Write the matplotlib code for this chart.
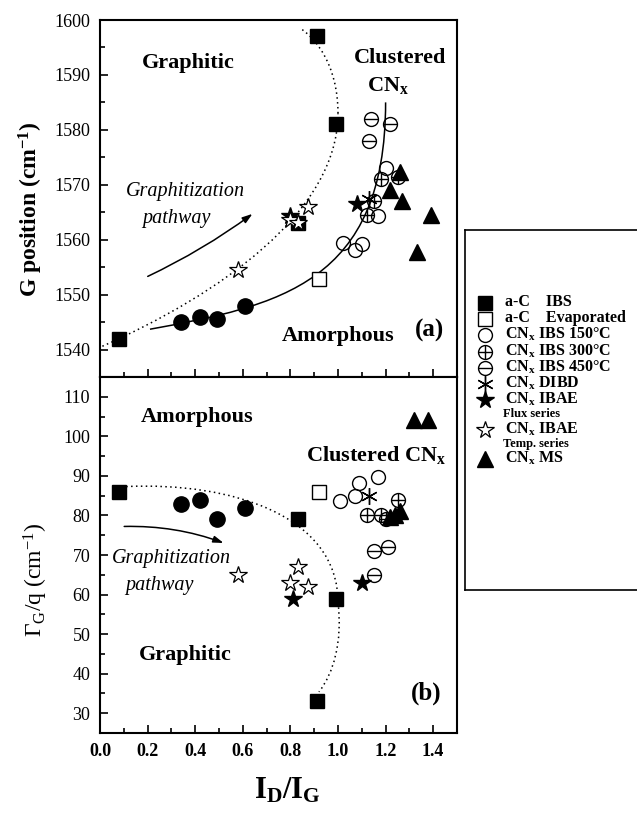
import matplotlib
matplotlib.use("Agg")
import matplotlib.pyplot as plt
from matplotlib.path import Path
from matplotlib.patches import PathPatch
from matplotlib.ticker import MultipleLocator

plt.rcParams["font.family"] = ["Liberation Serif", "DejaVu Serif"]
plt.rcParams["mathtext.fontset"] = "custom"
plt.rcParams["mathtext.rm"] = "Liberation Serif"
plt.rcParams["mathtext.it"] = "Liberation Serif:italic"
plt.rcParams["mathtext.bf"] = "Liberation Serif:bold"
plt.rcParams["mathtext.default"] = "regular"

# ---- data ----
# a-C IBS (filled squares), same samples in both panels
ac_ibs_x = [0.08, 0.83, 0.91, 0.99]
ac_ibs_g = [1542, 1563, 1597, 1581]
ac_ibs_w = [86, 79, 33, 59]

# a-C evaporated (open square)
ac_evap_x = [0.92]
ac_evap_g = [1552.8]
ac_evap_w = [86]

# unlabeled filled circles (a-C series on the solid line)
fc_x = [0.34, 0.42, 0.49, 0.61]
fc_g = [1545, 1546, 1545.6, 1548]
fc_w = [83, 84, 79, 82]

# CNx IBS 150C (open circles)
c150_x_a = [1.02, 1.07, 1.10, 1.17, 1.20]
c150_g = [1559.4, 1558.2, 1559.2, 1564.4, 1573]
c150_x_b = [1.01, 1.07, 1.09, 1.17]
c150_w = [83.7, 84.8, 88.1, 89.8]

# CNx IBS 300C (crossed circles)
c300_x_a = [1.12, 1.15, 1.18, 1.25]
c300_g = [1564.5, 1567, 1571, 1571.5]
c300_x_b = [1.12, 1.18, 1.20, 1.25]
c300_w = [80, 80, 79, 84]

# CNx IBS 450C (minus circles)
c450_x_a = [1.13, 1.14, 1.22]
c450_g = [1578, 1582, 1581]
c450_x_b = [1.15, 1.21, 1.15]
c450_w = [71, 72, 65]

# CNx DIBD (asterisk)
dibd_x = [1.13]
dibd_g = [1567.5]
dibd_w = [85]

# CNx IBAE flux series (filled stars)
ibae_f_x_a = [0.80, 1.08]
ibae_f_g = [1564.4, 1566.5]
ibae_f_x_b = [0.81, 1.10]
ibae_f_w = [59, 63]

# CNx IBAE temp. series (open stars)
ibae_t_x = [0.58, 0.80, 0.83, 0.875]
ibae_t_g = [1554.4, 1563.5, 1563.0, 1566]
ibae_t_w = [65, 63, 67, 62]

# CNx MS (filled triangles)
ms_x_a = [1.22, 1.26, 1.27, 1.33, 1.39]
ms_g = [1569, 1572.3, 1567, 1557.7, 1564.5]
ms_x_b = [1.22, 1.24, 1.26, 1.32, 1.38]
ms_w = [79.5, 80, 81, 104.2, 104.2]

# guide-to-the-eye curves (Bezier control points)
guide_a_solid = [(0.21, 1543.7), (0.75, 1548), (1.20, 1552), (1.20, 1585)]
guide_a_dot1 = [(0.01, 1540.6), (0.50, 1550), (1.00, 1565), (1.00, 1583)]
guide_a_dot2 = [(1.00, 1583), (1.00, 1592), (0.90, 1597), (0.84, 1598.5)]
guide_b_dot1 = [(0.11, 87.3), (0.55, 88.5), (1.00, 80), (1.00, 58)]
guide_b_dot2 = [(1.00, 58), (1.02, 48), (0.98, 40), (0.92, 35.4)]

fig = plt.figure(figsize=(6.37, 8.13), dpi=100)
ax_a = fig.add_axes([100 / 637, 1 - 377 / 813, 357 / 637, 357 / 813])
ax_b = fig.add_axes([100 / 637, 1 - 733 / 813, 357 / 637, 356 / 813])

ms_sq, ms_c, ms_st, ms_tr = 9.5, 10, 13, 11


def bezier(ax, pts, ls):
    path = Path(pts, [Path.MOVETO, Path.CURVE4, Path.CURVE4, Path.CURVE4])
    ax.add_patch(PathPatch(path, fill=False, lw=1.1, ls=ls, color="black"))


def draw_markers(ax, xs, ys, kind):
    kw = dict(ls="none", color="black", zorder=3)
    if kind == "fsq":
        ax.plot(xs, ys, "s", ms=ms_sq, **kw)
    elif kind == "osq":
        ax.plot(xs, ys, "s", ms=ms_sq, mfc="white", mew=1.0, **kw)
    elif kind == "fci":
        ax.plot(xs, ys, "o", ms=ms_c + 1, **kw)
    elif kind == "oci":
        ax.plot(xs, ys, "o", ms=ms_c, mfc="none", mew=1.0, **kw)
    elif kind == "plus":
        ax.plot(xs, ys, "o", ms=ms_c, mfc="none", mew=1.0, **kw)
        ax.plot(xs, ys, "+", ms=ms_c, mew=1.0, **kw)
    elif kind == "minus":
        ax.plot(xs, ys, "o", ms=ms_c, mfc="none", mew=1.0, **kw)
        ax.plot(xs, ys, "_", ms=ms_c, mew=1.0, **kw)
    elif kind == "ast":
        ax.plot(xs, ys, marker=(6, 2, 0), ms=ms_c + 2, mew=1.0, **kw)
    elif kind == "fst":
        ax.plot(xs, ys, "*", ms=ms_st, **kw)
    elif kind == "ost":
        ax.plot(xs, ys, "*", ms=ms_st, mfc="white", mew=0.9, **kw)
    elif kind == "tri":
        ax.plot(xs, ys, "^", ms=ms_tr, **kw)


# ---- panel (a) ----
bezier(ax_a, guide_a_solid, "-")
bezier(ax_a, guide_a_dot1, (0, (1, 2.2)))
bezier(ax_a, guide_a_dot2, (0, (1, 2.2)))
draw_markers(ax_a, c150_x_a, c150_g, "oci")
draw_markers(ax_a, c300_x_a, c300_g, "plus")
draw_markers(ax_a, c450_x_a, c450_g, "minus")
draw_markers(ax_a, ms_x_a, ms_g, "tri")
draw_markers(ax_a, ac_ibs_x, ac_ibs_g, "fsq")
draw_markers(ax_a, ac_evap_x, ac_evap_g, "osq")
draw_markers(ax_a, fc_x, fc_g, "fci")
draw_markers(ax_a, ibae_f_x_a, ibae_f_g, "fst")
draw_markers(ax_a, ibae_t_x, ibae_t_g, "ost")
draw_markers(ax_a, dibd_x, dibd_g, "ast")

ax_a.annotate("", xy=(0.65, 1565), xytext=(0.19, 1553.1),
              arrowprops=dict(arrowstyle="-|>,head_length=0.6,head_width=0.2",
                              connectionstyle="arc3,rad=0.05", color="black", lw=1.1))
ax_a.text(0.36, 1568.7, "Graphitization", style="italic", fontsize=14.5, ha="center", va="center")
ax_a.text(0.32, 1563.8, "pathway", style="italic", fontsize=14.5, ha="center", va="center")
bold = dict(fontsize=16, fontweight="bold", ha="center", va="center")
ax_a.text(0.37, 1592.1, "Graphitic", **bold)
ax_a.text(1.26, 1593, "Clustered", **bold)
ax_a.text(1.21, 1588.0, r"CN$_{\mathbf{x}}$", **bold)
ax_a.text(1.0, 1542.5, "Amorphous", **bold)
ax_a.text(1.385, 1543.4, "(a)", fontsize=18, fontweight="bold", ha="center", va="center")

ax_a.set_xlim(0, 1.5)
ax_a.set_ylim(1535, 1600)
ax_a.yaxis.set_major_locator(MultipleLocator(10))
ax_a.yaxis.set_minor_locator(MultipleLocator(5))
ax_a.set_ylabel(r"G position (cm$^{\mathbf{-1}}$)", fontsize=17, fontweight="bold")
ax_a.yaxis.set_label_coords(-0.155, 0.47)
ax_a.tick_params(axis="x", labelbottom=False)

# ---- panel (b) ----
bezier(ax_b, guide_b_dot1, (0, (1, 2.2)))
bezier(ax_b, guide_b_dot2, (0, (1, 2.2)))
draw_markers(ax_b, c150_x_b, c150_w, "oci")
draw_markers(ax_b, c300_x_b, c300_w, "plus")
draw_markers(ax_b, c450_x_b, c450_w, "minus")
draw_markers(ax_b, ms_x_b, ms_w, "tri")
draw_markers(ax_b, ac_ibs_x, ac_ibs_w, "fsq")
draw_markers(ax_b, ac_evap_x, ac_evap_w, "osq")
draw_markers(ax_b, fc_x, fc_w, "fci")
draw_markers(ax_b, ibae_f_x_b, ibae_f_w, "fst")
draw_markers(ax_b, ibae_t_x, ibae_t_w, "ost")
draw_markers(ax_b, dibd_x, dibd_w, "ast")

ax_b.annotate("", xy=(0.53, 72.8), xytext=(0.09, 77.2),
              arrowprops=dict(arrowstyle="-|>,head_length=0.6,head_width=0.2",
                              connectionstyle="arc3,rad=-0.1", color="black", lw=1.1))
ax_b.text(0.30, 69, "Graphitization", style="italic", fontsize=14.5, ha="center", va="center")
ax_b.text(0.25, 62.3, "pathway", style="italic", fontsize=14.5, ha="center", va="center")
ax_b.text(0.41, 105, "Amorphous", **bold)
ax_b.text(1.16, 95.4, r"Clustered CN$_{\mathbf{x}}$", **bold)
ax_b.text(0.36, 44.7, "Graphitic", **bold)
ax_b.text(1.37, 35, "(b)", fontsize=18, fontweight="bold", ha="center", va="center")

ax_b.set_xlim(0, 1.5)
ax_b.set_ylim(25, 115)
ax_b.yaxis.set_major_locator(MultipleLocator(10))
ax_b.yaxis.set_minor_locator(MultipleLocator(5))
ax_b.set_ylabel(r"$\Gamma_G$/q (cm$^{-1}$)", fontsize=17)
ax_b.yaxis.set_label_coords(-0.14, 0.43)
ax_b.set_xlabel(r"$\mathbf{I_D/I_G}$", fontsize=22)
ax_b.xaxis.set_label_coords(0.525, -0.12)

for ax in (ax_a, ax_b):
    ax.xaxis.set_major_locator(MultipleLocator(0.2))
    ax.xaxis.set_minor_locator(MultipleLocator(0.1))
    ax.tick_params(which="both", direction="in", top=False, right=False, width=1.2)
    ax.tick_params(which="major", length=6, pad=7, labelsize=13)
    ax.tick_params(which="minor", length=3.5)
    for sp in ax.spines.values():
        sp.set_linewidth(1.5)
for lab in ax_b.get_xticklabels():
    lab.set_fontweight("bold")

# ---- legend panel ----
leg_labels = ["a-C    IBS", "a-C    Evaporated", r"CN$_x$ IBS 150°C", r"CN$_x$ IBS 300°C",
              r"CN$_x$ IBS 450°C", r"CN$_x$ DIBD", r"CN$_x$ IBAE", "Flux series",
              r"CN$_x$ IBAE", "Temp. series", r"CN$_x$ MS"]
leg_kinds = ["fsq", "osq", "oci", "plus", "minus", "ast", "fst", None, "ost", None, "tri"]
leg_rows = [303, 319, 335, 352, 368, 384, 400, 414, 430, 444, 459]

ax_l = fig.add_axes([465 / 637, 1 - 590 / 813, 185 / 637, 360 / 813])
ax_l.set_xlim(465, 650)
ax_l.set_ylim(590, 230)
ax_l.set_xticks([])
ax_l.set_yticks([])
for sp in ax_l.spines.values():
    sp.set_linewidth(1.2)
for lab, kind, yr in zip(leg_labels, leg_kinds, leg_rows):
    if kind is None:
        ax_l.text(503, yr, lab, fontsize=9, fontweight="bold", va="center", ha="left")
    else:
        draw_markers(ax_l, [485], [yr], kind)
        ax_l.text(505, yr - 1, lab, fontsize=11.5, fontweight="bold", va="center", ha="left")

fig.savefig("out.png", dpi=100)
